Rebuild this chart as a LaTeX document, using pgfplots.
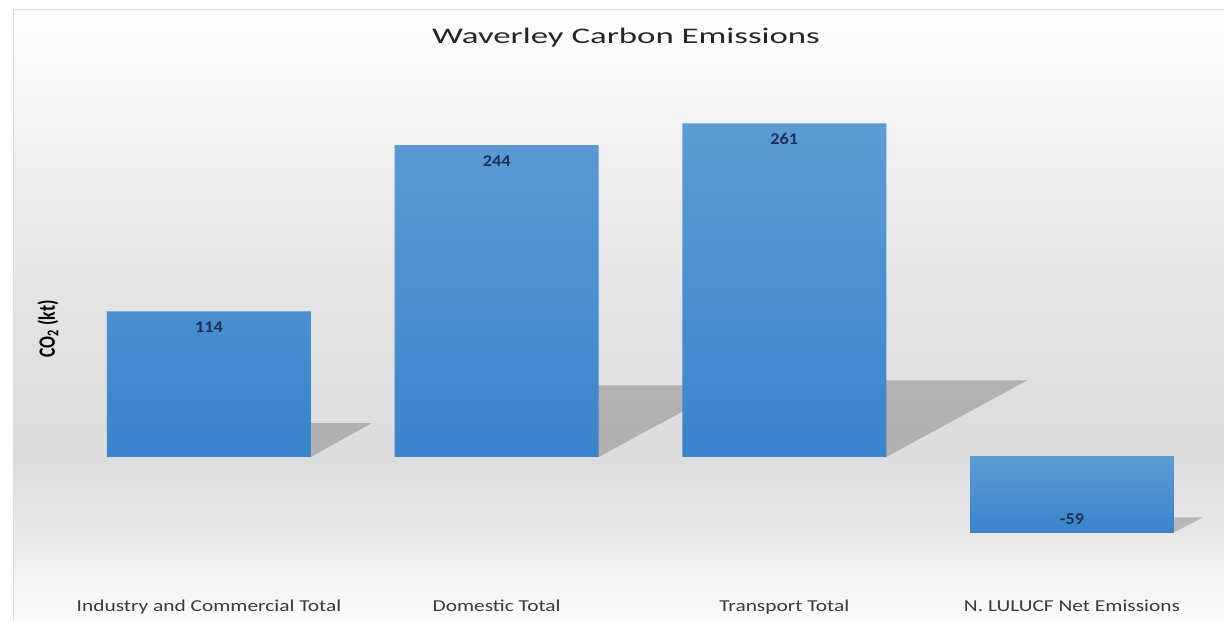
\documentclass[border=0pt]{standalone}
\usepackage{pgfplots}
\pgfplotsset{compat=1.18}
\usepackage{fontspec}
\setmainfont{Carlito}
\usepackage{graphicx}

\definecolor{bartop}{HTML}{5B9BD5}
\definecolor{barbot}{HTML}{3A84CC}
\definecolor{lblcol}{HTML}{1F3052}
\definecolor{txtcol}{HTML}{3A3A3A}
\definecolor{titlecol}{HTML}{262626}
\definecolor{bgA}{HTML}{FBFBFB}
\definecolor{bgB}{HTML}{F3F3F3}
\definecolor{bgC}{HTML}{E7E7E7}
\definecolor{bgD}{HTML}{DCDCDC}
\definecolor{bgE}{HTML}{E3E3E3}
\definecolor{bgF}{HTML}{F0F0F0}
\definecolor{bgG}{HTML}{FFFFFF}
\definecolor{framecol}{HTML}{DDDDDD}

\pgfdeclareverticalshading{bgshade}{100bp}{%
 color(0bp)=(bgA); color(25bp)=(bgA); color(28.35bp)=(bgB); color(32.45bp)=(bgC);
 color(38.4bp)=(bgD); color(51.25bp)=(bgE); color(63.5bp)=(bgF); color(75bp)=(bgG); color(100bp)=(bgG)}

\newcommand{\cat}[1]{\scalebox{1}[0.78]{\fontsize{10.7}{12}\selectfont #1}}
\newcommand{\lbl}[1]{\scalebox{1}[0.9]{\fontsize{9.1}{10}\selectfont\bfseries #1}}

\begin{document}
\begin{tikzpicture}
\begin{scope}[x=0.5pt,y=0.5pt]
\useasboundingbox (0,0) rectangle (1224,621);
\shade[shading=bgshade] (13.5,0) rectangle (1224,611.5);
\draw[color=framecol, line width=0.6pt] (13.5,0) -- (13.5,611.5) -- (1224,611.5);
\node[anchor=base, inner sep=0pt, text=titlecol] at (626,578)
  {\scalebox{1}[0.64]{\fontsize{17.4}{20}\selectfont Waverley Carbon Emissions}};
\node[rotate=90, inner sep=0pt, text=black] at (48,292)
  {\scalebox{0.75}[1]{\fontsize{11.7}{14}\selectfont\bfseries CO\textsubscript{2} (kt)}};
\end{scope}

\begin{axis}[
  at={(9.55pt,16pt)}, anchor=south west,
  scale only axis, width=598.35pt, height=257.7pt,
  xmin=-0.66, xmax=3.5, ymin=-103.3, ymax=300,
  axis line style={draw=none},
  major tick length=0pt,
  ytick=\empty,
  xtick={0,1,2,3},
  xticklabels={\cat{Industry and Commercial Total},\cat{Domestic Total},\cat{Transport Total},\cat{N. LULUCF Net Emissions}},
  xticklabel style={text=txtcol, yshift=-2pt},
  clip=false,
]
% shadows
\addplot[draw=none, fill=black, fill opacity=0.2, forget plot]
  coordinates {(-0.3545,0) (0.3545,0) (0.5665,26.6) (-0.1425,26.6)} -- cycle;
\addplot[draw=none, fill=black, fill opacity=0.2, forget plot]
  coordinates {(0.6455,0) (1.3545,0) (1.8135,56) (1.1045,56)} -- cycle;
\addplot[draw=none, fill=black, fill opacity=0.2, forget plot]
  coordinates {(1.6455,0) (2.3545,0) (2.8445,60) (2.1355,60)} -- cycle;
\addplot[draw=none, fill=black, fill opacity=0.2, forget plot]
  coordinates {(2.6455,-59) (3.3545,-59) (3.4545,-47.3) (2.7455,-47.3)} -- cycle;
% bars
\addplot[ybar, bar width=0.709, bar shift=0, draw=none, top color=bartop, bottom color=barbot,
  point meta=explicit symbolic, nodes near coords={\lbl{\pgfplotspointmeta}},
  every node near coord/.append style={anchor=center, yshift=-8pt, text=lblcol}]
  coordinates {(0,114)[114] (1,244)[244] (2,261)[261]};
\addplot[ybar, bar width=0.709, bar shift=0, draw=none, top color=bartop, bottom color=barbot,
  point meta=explicit symbolic, nodes near coords={\lbl{\pgfplotspointmeta}},
  every node near coord/.append style={anchor=center, yshift=6.5pt, text=lblcol}]
  coordinates {(3,-59)[-59]};
\end{axis}
\end{tikzpicture}
\end{document}
